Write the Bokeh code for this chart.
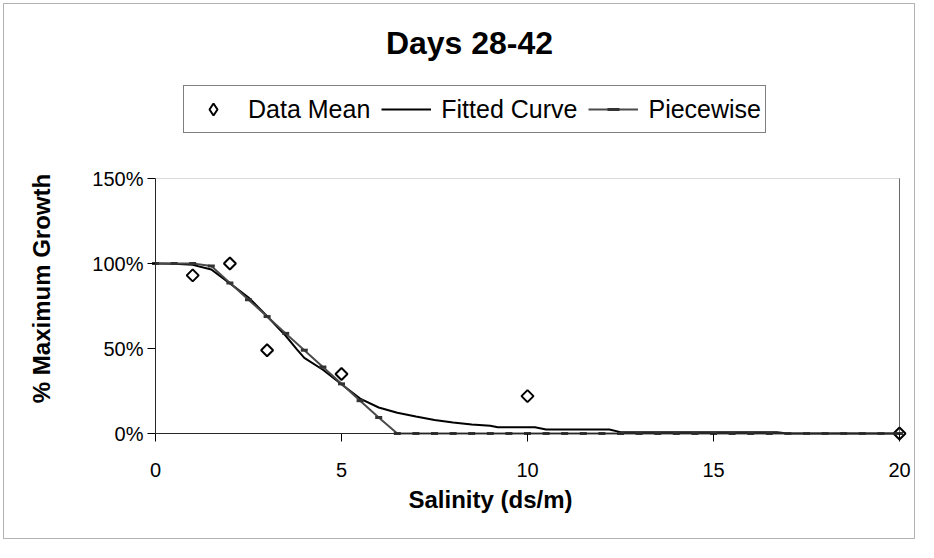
from bokeh.plotting import figure
from bokeh.models import (Range1d, FixedTicker, PrintfTickFormatter, Label, Legend,
                          LegendItem, BoxAnnotation, LinearAxis)
from bokeh.embed import file_html
from bokeh.resources import INLINE

# ---- data ----
mean_x = [1, 2, 3, 5, 10, 20]
mean_y = [93, 100, 49, 35, 22, 0]

fit_x = [0, 0.5, 1.0, 1.5, 2.0, 2.5, 3.0, 3.5, 3.8, 4.0, 4.5, 5.0, 5.5, 6.0, 6.5,
         7.0, 7.5, 8.0, 8.5, 9.0, 9.2, 10.2, 10.5, 12.2, 12.5, 16.7, 17.0, 20]
fit_y = [100, 99.8, 99.2, 96.5, 88.3, 80, 69, 57.5, 49.5, 44.5, 37.5, 29, 20.5, 15.3, 12.2,
         10, 8, 6.5, 5.3, 4.5, 3.7, 3.7, 2.4, 2.4, 0.8, 0.8, 0, 0]

pw_x = [0, 0.5, 1, 1.5, 2, 2.5, 3, 3.5, 4, 4.5, 5, 5.5, 6, 6.5, 7, 7.5, 8, 8.5,
        9, 9.5, 10, 10.5, 11, 11.5, 12, 12.5, 13, 13.5, 14, 14.5, 15, 15.5, 16,
        16.5, 17, 17.5, 18, 18.5, 19, 19.5, 20]
pw_y = [100, 100, 100, 98.5, 88.6, 78.7, 68.8, 58.9, 49, 39.1, 29.2, 19.3, 9.4, 0,
        0, 0, 0, 0, 0, 0, 0, 0, 0, 0, 0, 0, 0, 0, 0, 0, 0, 0, 0, 0, 0, 0, 0, 0, 0, 0, 0]

x_ticks = [0, 5, 10, 15, 20]
y_ticks = [0, 50, 100, 150]

title_text = "Days 28-42"
x_title = "Salinity (ds/m)"
y_title = "% Maximum Growth"
FONT = "Liberation Sans"

# ---- layout (pixels) ----
W, H = 918, 542
PA_LEFT, PA_RIGHT, PA_TOP, PA_BOTTOM = 155, 899, 178, 433   # plot area in page pixels
x0, x1 = x_ticks[0], x_ticks[-1]
y0, y1 = y_ticks[0], y_ticks[-1]
kx = (PA_RIGHT - PA_LEFT) / (x1 - x0)
ky = (PA_BOTTOM - PA_TOP) / (y1 - y0)
x_range = Range1d(x0 - PA_LEFT / kx, x1 + (W - PA_RIGHT) / kx)
y_range = Range1d(y0 - (H - PA_BOTTOM) / ky, y1 + PA_TOP / ky)

p = figure(width=W, height=H, x_range=x_range, y_range=y_range,
           output_backend="svg", toolbar_location=None, title_location=None,
           x_axis_location=None, y_axis_location=None,
           min_border_left=0, min_border_right=0, min_border_top=0, min_border_bottom=0)
p.xgrid.visible = False
p.ygrid.visible = False
p.outline_line_color = None
p.background_fill_color = "white"
p.border_fill_color = "white"

xax = LinearAxis(fixed_location=y0, bounds=(x0, x1))
yax = LinearAxis(fixed_location=x0, bounds=(y0, y1))
p.add_layout(xax, "below")
p.add_layout(yax, "left")

for ax in (xax, yax):
    ax.axis_line_color = "black"
    ax.axis_line_width = 1
    ax.major_tick_line_color = "black"
    ax.major_tick_out = 8
    ax.major_tick_in = 0
    ax.minor_tick_line_color = None
    ax.major_label_text_font = FONT
    ax.major_label_text_font_size = "20px"
    ax.major_label_text_color = "black"

xax.ticker = FixedTicker(ticks=x_ticks, minor_ticks=[])
yax.ticker = FixedTicker(ticks=y_ticks, minor_ticks=[])
yax.formatter = PrintfTickFormatter(format="%d%%")
xax.major_label_standoff = 21
yax.major_label_standoff = 4

# outer chart border and plot-area border
p.add_layout(BoxAnnotation(left=3, right=W - 4, bottom=4, top=H - 3,
                           left_units="screen", right_units="screen",
                           bottom_units="screen", top_units="screen",
                           fill_alpha=0, line_color="black", line_width=1))
p.add_layout(BoxAnnotation(left=x0, right=x1, bottom=y0, top=y1,
                           fill_alpha=0, line_color="#808080", line_width=1))
p.add_layout(BoxAnnotation(left=x1, right=x1, bottom=y0, top=y1,
                           fill_alpha=0, line_color="black", line_width=1))

# series (the tiny diamond renderer only provides the legend sample; it is hidden
# under the white-filled markers drawn after it)
dm_leg = p.scatter(mean_x, mean_y, marker="diamond", size=0.1,
                   line_color="black", line_width=2, fill_color=None)
dm = p.scatter(mean_x, mean_y, marker="square", angle=0.7854, size=8.5,
               line_color="black", line_width=2, fill_color="white")
fit_r = p.line(fit_x, fit_y, line_color="black", line_width=2)
pw_line = p.line(pw_x, pw_y, line_color="#4a4a4a", line_width=2)
pw_marks = p.scatter(pw_x, pw_y, marker="dash", size=7, line_color="#333333", line_width=3)

legend = Legend(items=[LegendItem(label="Data Mean", renderers=[dm_leg]),
                       LegendItem(label="Fitted Curve", renderers=[fit_r]),
                       LegendItem(label="Piecewise", renderers=[pw_line, pw_marks])],
                orientation="horizontal", location=(183, H - 133), margin=0,
                glyph_width=50, glyph_height=30, label_height=38,
                label_standoff=10, spacing=11,
                padding=4, border_line_color="black", border_line_width=1,
                label_text_font=FONT, label_text_font_size="25px",
                label_text_color="black", background_fill_color="white",
                background_fill_alpha=1)
p.add_layout(legend)

p.add_layout(Label(x=469, y=H - 42, x_units="screen", y_units="screen", text=title_text,
                   text_font=FONT, text_font_style="bold", text_font_size="32px",
                   text_color="black",
                   text_align="center", text_baseline="alphabetic"))
p.add_layout(Label(x=490, y=H - 499, x_units="screen", y_units="screen", text=x_title,
                   text_font=FONT, text_font_style="bold", text_font_size="24px",
                   text_color="black",
                   text_align="center", text_baseline="alphabetic"))
p.add_layout(Label(x=41, y=H - 288, x_units="screen", y_units="screen", text=y_title,
                   text_font=FONT, text_font_style="bold", text_font_size="24px",
                   text_color="black",
                   text_align="center", text_baseline="alphabetic", angle=1.5708))

open("out.html", "w").write(file_html(p, INLINE))
